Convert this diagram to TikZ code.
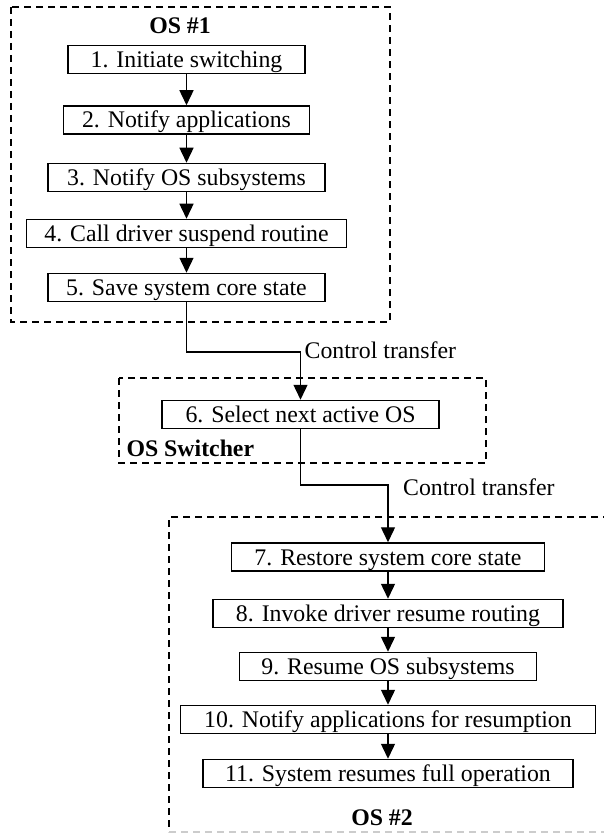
\documentclass[tikz,border=0pt]{standalone}
\usepackage{fontspec}
\setmainfont{Liberation Serif}
\usetikzlibrary{arrows.meta}
\tikzstyle{stepbox} = [draw, line width=1.5pt, rectangle, inner xsep=0pt, inner ysep=0pt, minimum height=28pt, text height=16pt, text depth=0pt]
\tikzstyle{osbox} = [draw, line width=1.5pt, dash pattern=on 7pt off 5pt]
\tikzstyle{oslabel} = [font=\fontsize{23.8}{28}\selectfont\bfseries]
\tikzstyle{flow} = [line width=1.4pt, -{Triangle[width=14pt,length=15pt]}]

\begin{document}
\begin{tikzpicture}[x=1pt, y=-1pt, font=\fontsize{23.8}{28}\selectfont]
	\useasboundingbox (0,0) rectangle (603,834);
	% OS #1
	\draw[osbox] (11,7) rectangle (390,322);
	\node[oslabel] (os1) at (180,26) {OS \#1};
	\node[stepbox, minimum width=237pt] (s1) at (186.5,59.5) {1. Initiate switching};
	\node[stepbox, minimum width=246pt] (s2) at (186.5,120) {2. Notify applications};
	\node[stepbox, minimum width=277pt] (s3) at (186.5,177.5) {3. Notify OS subsystems};
	\node[stepbox, minimum width=320pt] (s4) at (186.5,233.5) {4. Call driver suspend routine};
	\node[stepbox, minimum width=277pt] (s5) at (186.5,287.5) {5. Save system core state};
	\foreach \a/\b in {s1/s2, s2/s3, s3/s4, s4/s5}
		\draw[flow] (\a.south) -- (\b.north);

	% OS Switcher
	\draw[osbox] (119,378) rectangle (486,463);
	\node[oslabel, anchor=west] (sw) at (123,448) {OS Switcher};
	\node[stepbox, minimum width=277pt] (s6) at (300.5,414.5) {6. Select next active OS};
	\coordinate (ctl1) at (300.5,352);
	\draw[flow] (s5.south) |- (ctl1) -| (s6.north);
	\node[anchor=west, inner sep=4pt] (ct1) at ([yshift=2pt]ctl1) {Control transfer};

	% OS #2
	\draw[osbox] (610,517) -- (169,517) -- (169,832);
	\draw[osbox, gray!40] (169,832) -- (610,832);
	\node[oslabel] (os2) at (382,818) {OS \#2};
	\node[stepbox, minimum width=313pt] (s7) at (388,557) {7. Restore system core state};
	\node[stepbox, minimum width=350pt] (s8) at (388,613.5) {8. Invoke driver resume routing};
	\node[stepbox, minimum width=297pt] (s9) at (388,666.5) {9. Resume OS subsystems};
	\node[stepbox, minimum width=415pt] (s10) at (388,719.5) {10. Notify applications for resumption};
	\node[stepbox, minimum width=370pt] (s11) at (388,773.5) {11. System resumes full operation};
	\foreach \a/\b in {s7/s8, s8/s9, s9/s10, s10/s11}
		\draw[flow] (\a.south) -- (\b.north);
	\coordinate (ctl2) at (388,485);
	\draw[flow] (s6.south) |- (ctl2) -| (s7.north);
	\node[anchor=west, inner sep=4pt] (ct2) at ([xshift=11pt, yshift=-2pt]ctl2) {Control transfer};
\end{tikzpicture}
\end{document}
